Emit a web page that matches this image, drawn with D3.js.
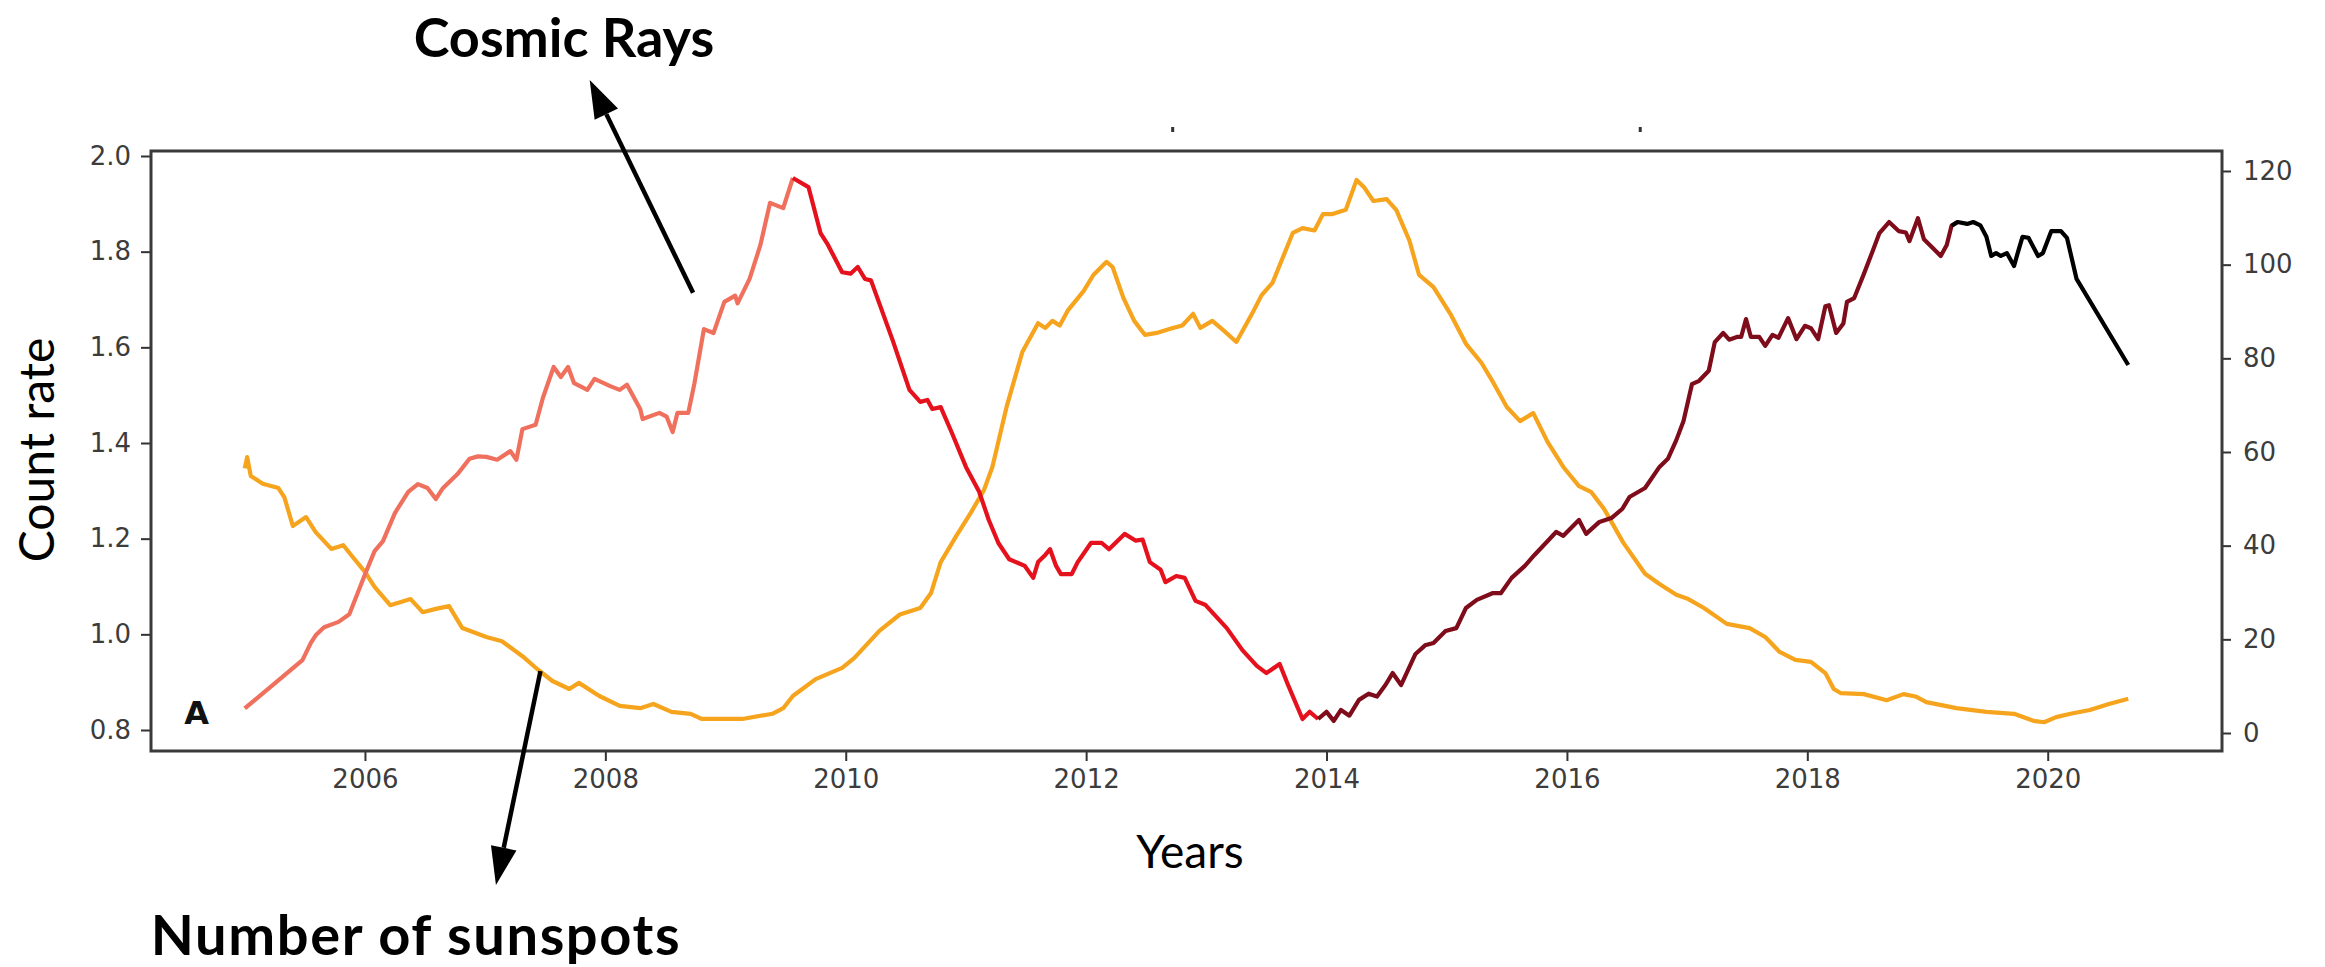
<!DOCTYPE html>
<html lang="en">
<head>
  <meta charset="UTF-8">
  <title>Cosmic Rays vs Number of sunspots</title>
  <script src="https://d3js.org/d3.v7.min.js"></script>
  <style>
    body {
      margin: 0;
      padding: 0;
      background: #fff;
    }
    .tick text {
      font-family: 'DejaVu Sans', sans-serif;
      font-size: 26px;
      fill: #3c3c3c;
    }
    .tick line {
      stroke: #333;
      stroke-width: 2px;
    }
    .label {
      font-family: Lato, 'Open Sans', sans-serif;
      fill: #000;
    }
  </style>
</head>
<body>
<div id="chart"></div>

<script>
// cosmic ray count rate (left axis)
const crYears = [2005.00, 2005.48, 2005.55, 2005.59, 2005.66, 2005.78, 2005.87, 2006.00, 2006.08, 2006.15,
  2006.25, 2006.36, 2006.44, 2006.52, 2006.59, 2006.65, 2006.77, 2006.87, 2006.94, 2007.01,
  2007.10, 2007.21, 2007.26, 2007.31, 2007.42, 2007.48, 2007.57, 2007.63, 2007.69, 2007.74,
  2007.85, 2007.91, 2008.04, 2008.12, 2008.18, 2008.29, 2008.31, 2008.45, 2008.51, 2008.56,
  2008.60, 2008.69, 2008.74, 2008.82, 2008.90, 2008.99, 2009.08, 2009.10, 2009.20, 2009.29,
  2009.37, 2009.48, 2009.56, 2009.69, 2009.79, 2009.85, 2009.97, 2010.04, 2010.10, 2010.16,
  2010.21, 2010.39, 2010.53, 2010.62, 2010.68, 2010.72, 2010.79, 2010.88, 2011.00, 2011.11,
  2011.19, 2011.27, 2011.36, 2011.49, 2011.56, 2011.60, 2011.66, 2011.70, 2011.75, 2011.79,
  2011.88, 2011.93, 2012.04, 2012.13, 2012.19, 2012.32, 2012.41, 2012.47, 2012.53, 2012.62,
  2012.66, 2012.75, 2012.82, 2012.91, 2012.99, 2013.17, 2013.30, 2013.42, 2013.50, 2013.61,
  2013.68, 2013.80, 2013.86, 2013.93, 2014.00, 2014.06, 2014.12, 2014.19, 2014.27, 2014.35,
  2014.42, 2014.49, 2014.55, 2014.62, 2014.74, 2014.82, 2014.89, 2014.99, 2015.08, 2015.16,
  2015.25, 2015.38, 2015.45, 2015.54, 2015.65, 2015.73, 2015.84, 2015.91, 2015.97, 2016.10,
  2016.16, 2016.27, 2016.37, 2016.46, 2016.52, 2016.65, 2016.77, 2016.84, 2016.91, 2016.97,
  2017.04, 2017.10, 2017.18, 2017.23, 2017.30, 2017.35, 2017.42, 2017.45, 2017.49, 2017.53,
  2017.60, 2017.65, 2017.71, 2017.76, 2017.84, 2017.91, 2017.98, 2018.03, 2018.09, 2018.15,
  2018.18, 2018.24, 2018.30, 2018.33, 2018.39, 2018.47, 2018.54, 2018.60, 2018.68, 2018.76,
  2018.82, 2018.85, 2018.92, 2018.97, 2019.05, 2019.11, 2019.16, 2019.20, 2019.25, 2019.33,
  2019.38, 2019.44, 2019.49, 2019.53, 2019.57, 2019.61, 2019.66, 2019.72, 2019.75, 2019.79,
  2019.84, 2019.92, 2019.96, 2020.03, 2020.11, 2020.16, 2020.24, 2020.67];
const crRate = [0.845, 0.946, 0.982, 0.998, 1.015, 1.026, 1.042, 1.125, 1.174, 1.195,
  1.254, 1.298, 1.314, 1.306, 1.283, 1.306, 1.335, 1.367, 1.372, 1.371,
  1.365, 1.383, 1.365, 1.429, 1.438, 1.494, 1.559, 1.538, 1.559, 1.525,
  1.511, 1.534, 1.519, 1.511, 1.522, 1.471, 1.450, 1.463, 1.455, 1.423,
  1.463, 1.463, 1.523, 1.638, 1.630, 1.695, 1.708, 1.692, 1.743, 1.814,
  1.902, 1.891, 1.954, 1.935, 1.839, 1.815, 1.757, 1.754, 1.768, 1.743,
  1.740, 1.615, 1.511, 1.486, 1.490, 1.471, 1.475, 1.423, 1.350, 1.298,
  1.239, 1.191, 1.157, 1.143, 1.118, 1.151, 1.166, 1.178, 1.143, 1.126,
  1.126, 1.151, 1.191, 1.191, 1.178, 1.210, 1.196, 1.198, 1.151, 1.135,
  1.109, 1.122, 1.118, 1.070, 1.062, 1.013, 0.967, 0.934, 0.919, 0.938,
  0.894, 0.823, 0.838, 0.823, 0.838, 0.819, 0.842, 0.830, 0.863, 0.876,
  0.870, 0.894, 0.919, 0.894, 0.959, 0.977, 0.982, 1.007, 1.013, 1.055,
  1.072, 1.086, 1.086, 1.118, 1.143, 1.166, 1.195, 1.214, 1.206, 1.239,
  1.210, 1.235, 1.243, 1.262, 1.287, 1.306, 1.350, 1.367, 1.406, 1.446,
  1.523, 1.530, 1.551, 1.611, 1.630, 1.616, 1.622, 1.622, 1.659, 1.622,
  1.622, 1.603, 1.626, 1.620, 1.661, 1.617, 1.645, 1.640, 1.617, 1.686,
  1.688, 1.630, 1.650, 1.695, 1.703, 1.753, 1.799, 1.839, 1.862, 1.843,
  1.840, 1.822, 1.870, 1.826, 1.806, 1.791, 1.814, 1.854, 1.862, 1.858,
  1.862, 1.855, 1.831, 1.791, 1.797, 1.791, 1.797, 1.770, 1.797, 1.831,
  1.829, 1.791, 1.797, 1.843, 1.843, 1.829, 1.743, 1.563];

// years where the cosmic ray line changes colour
const crBreaks = [2009.65, 2013.95, 2019.25];
const crColors = ["#f0705e", "#e5121d", "#7e0c1a", "#000000"];

// number of sunspots (right axis)
const ssYears = [2005.00, 2005.02, 2005.05, 2005.15, 2005.28, 2005.33, 2005.40, 2005.51, 2005.59, 2005.72,
  2005.82, 2005.91, 2006.00, 2006.08, 2006.21, 2006.38, 2006.48, 2006.59, 2006.70, 2006.81,
  2007.01, 2007.14, 2007.31, 2007.44, 2007.56, 2007.70, 2007.78, 2007.95, 2008.12, 2008.29,
  2008.40, 2008.55, 2008.71, 2008.80, 2009.14, 2009.39, 2009.48, 2009.56, 2009.75, 2009.97,
  2010.07, 2010.28, 2010.45, 2010.62, 2010.71, 2010.79, 2010.92, 2011.04, 2011.15, 2011.22,
  2011.34, 2011.47, 2011.60, 2011.66, 2011.72, 2011.78, 2011.85, 2011.98, 2012.06, 2012.17,
  2012.22, 2012.31, 2012.40, 2012.49, 2012.60, 2012.70, 2012.80, 2012.89, 2012.95, 2013.05,
  2013.15, 2013.25, 2013.38, 2013.46, 2013.55, 2013.72, 2013.80, 2013.90, 2013.97, 2014.05,
  2014.16, 2014.25, 2014.31, 2014.39, 2014.50, 2014.58, 2014.69, 2014.77, 2014.89, 2015.03,
  2015.16, 2015.29, 2015.39, 2015.50, 2015.61, 2015.72, 2015.84, 2015.97, 2016.10, 2016.20,
  2016.31, 2016.47, 2016.65, 2016.77, 2016.91, 2017.01, 2017.14, 2017.33, 2017.52, 2017.65,
  2017.77, 2017.90, 2018.03, 2018.15, 2018.22, 2018.28, 2018.47, 2018.66, 2018.80, 2018.90,
  2018.99, 2019.24, 2019.49, 2019.72, 2019.88, 2019.97, 2020.07, 2020.19, 2020.35, 2020.51,
  2020.67];
const ssCount = [56.5, 58.9, 54.9, 53.2, 52.3, 50.3, 44.2, 46.1, 42.9, 39.3,
  40.1, 37.2, 34.4, 31.2, 27.3, 28.6, 25.8, 26.5, 27.1, 22.4,
  20.5, 19.6, 16.4, 13.5, 11.1, 9.4, 10.7, 7.9, 5.8, 5.3,
  6.2, 4.5, 4.1, 3.0, 3.0, 4.1, 5.3, 7.9, 11.5, 13.9,
  16.0, 21.8, 25.3, 26.7, 29.9, 36.5, 42.1, 47.0, 51.9, 56.8,
  69.8, 81.4, 87.5, 86.5, 88.0, 87.0, 90.3, 94.4, 97.8, 100.6,
  99.5, 92.9, 88.0, 85.0, 85.5, 86.3, 87.0, 89.5, 86.5, 88.0,
  85.8, 83.5, 89.5, 93.5, 96.1, 106.8, 107.8, 107.3, 110.8, 110.8,
  111.7, 118.1, 116.6, 113.6, 114.0, 111.7, 105.1, 97.8, 95.2, 89.5,
  83.1, 79.0, 74.7, 69.6, 66.6, 68.3, 62.1, 56.8, 52.7, 51.5,
  47.8, 40.6, 34.0, 31.8, 29.5, 28.6, 26.7, 23.3, 22.4, 20.5,
  17.3, 15.6, 15.2, 12.8, 9.4, 8.5, 8.3, 7.0, 8.3, 7.8,
  6.6, 5.3, 4.5, 4.1, 2.6, 2.3, 3.4, 4.1, 4.9, 6.2,
  7.3];

const xTicks = [2006, 2008, 2010, 2012, 2014, 2016, 2018, 2020];
const leftTicks = [0.8, 1.0, 1.2, 1.4, 1.6, 1.8, 2.0];
const rightTicks = [0, 20, 40, 60, 80, 100, 120];

const W = 2325, H = 967;
const plot = {left: 151, right: 2222, top: 151, bottom: 751};

const svg = d3.select("#chart").append("svg")
    .attr("width", W)
    .attr("height", H)
    .style("display", "block");

const x = d3.scaleLinear().domain([2004.22, 2021.45]).range([plot.left, plot.right]);
const yL = d3.scaleLinear().domain([0.7561, 2.01045]).range([plot.bottom, plot.top]);
const yR = d3.scaleLinear().domain([-3.843, 124.27]).range([plot.bottom, plot.top]);

// axes
const gx = svg.append("g")
    .attr("transform", `translate(0,${plot.bottom})`)
    .call(d3.axisBottom(x).tickValues(xTicks).tickFormat(d3.format("d")).tickSize(10).tickPadding(9));
const gl = svg.append("g")
    .attr("transform", `translate(${plot.left},0)`)
    .call(d3.axisLeft(yL).tickValues(leftTicks).tickFormat(d3.format(".1f")).tickSize(10).tickPadding(10));
const gr = svg.append("g")
    .attr("transform", `translate(${plot.right},0)`)
    .call(d3.axisRight(yR).tickValues(rightTicks).tickFormat(d3.format("d")).tickSize(9).tickPadding(12));
[gx, gl, gr].forEach(g => g.select(".domain").remove());

// sunspots line
const ssData = ssYears.map((d, i) => ({year: d, v: ssCount[i]}));
svg.append("path")
    .datum(ssData)
    .attr("fill", "none")
    .attr("stroke", "#f6a41d")
    .attr("stroke-width", 4.2)
    .attr("stroke-linejoin", "round")
    .attr("d", d3.line().x(d => x(d.year)).y(d => yR(d.v)));

// cosmic ray line, split into coloured pieces
const crData = crYears.map((d, i) => ({year: d, v: crRate[i]}));
const edges = [-Infinity, ...crBreaks, Infinity];
for (let k = 0; k < crColors.length; k++) {
  const seg = crData.filter(d => d.year >= edges[k] && d.year <= edges[k + 1]);
  // glue pieces together with the neighbouring point
  const prev = crData.filter(d => d.year < edges[k]).pop();
  if (prev) seg.unshift(prev);
  svg.append("path")
      .datum(seg)
      .attr("fill", "none")
      .attr("stroke", crColors[k])
      .attr("stroke-width", 4.2)
      .attr("stroke-linejoin", "round")
      .attr("d", d3.line().x(d => x(d.year)).y(d => yL(d.v)));
}

// frame
svg.append("rect")
    .attr("x", plot.left)
    .attr("y", plot.top)
    .attr("width", plot.right - plot.left)
    .attr("height", plot.bottom - plot.top)
    .attr("fill", "none")
    .attr("stroke", "#3a3a3a")
    .attr("stroke-width", 3);

// panel letter
svg.append("text")
    .attr("x", x(2004.6))
    .attr("y", 724)
    .attr("text-anchor", "middle")
    .attr("font-family", "'DejaVu Sans', sans-serif")
    .attr("font-weight", "bold")
    .attr("font-size", 32)
    .attr("fill", "#111")
    .text("A");

// stray marks above the frame
[2012.72, 2016.61].forEach(yr => {
  svg.append("rect")
      .attr("x", x(yr) - 1.5)
      .attr("y", 127)
      .attr("width", 3)
      .attr("height", 5)
      .attr("fill", "#333");
});

// axis titles
svg.append("text")
    .attr("class", "label")
    .attr("x", 1190)
    .attr("y", 868)
    .attr("text-anchor", "middle")
    .attr("font-size", 46)
    .text("Years");
svg.append("text")
    .attr("class", "label")
    .attr("transform", "translate(54,450) rotate(-90)")
    .attr("text-anchor", "middle")
    .attr("font-size", 48)
    .text("Count rate");

// annotations
svg.append("text")
    .attr("class", "label")
    .attr("x", 564)
    .attr("y", 57)
    .attr("text-anchor", "middle")
    .attr("font-size", 54)
    .attr("font-weight", "bold")
    .text("Cosmic Rays");
svg.append("text")
    .attr("class", "label")
    .attr("x", 416)
    .attr("y", 955)
    .attr("text-anchor", "middle")
    .attr("font-size", 56)
    .attr("font-weight", "bold")
    .attr("letter-spacing", 1.6)
    .text("Number of sunspots");

function arrow(x1, y1, x2, y2) {
  const ang = Math.atan2(y2 - y1, x2 - x1);
  const len = 38, half = 13;
  const bx = x2 - len * Math.cos(ang), by = y2 - len * Math.sin(ang);
  svg.append("line")
      .attr("x1", x1).attr("y1", y1)
      .attr("x2", bx).attr("y2", by)
      .attr("stroke", "#000")
      .attr("stroke-width", 4.5);
  const px = -Math.sin(ang), py = Math.cos(ang);
  svg.append("path")
      .attr("d", `M${x2},${y2}L${bx + half * px},${by + half * py}L${bx - half * px},${by - half * py}Z`)
      .attr("fill", "#000");
}
// arrows placed in data units
arrow(x(2008.73), yL(1.714), x(2007.87), yL(2.159));
arrow(x(2007.46), yL(0.923), x(2007.09), yL(0.476));
</script>
</body>
</html>
